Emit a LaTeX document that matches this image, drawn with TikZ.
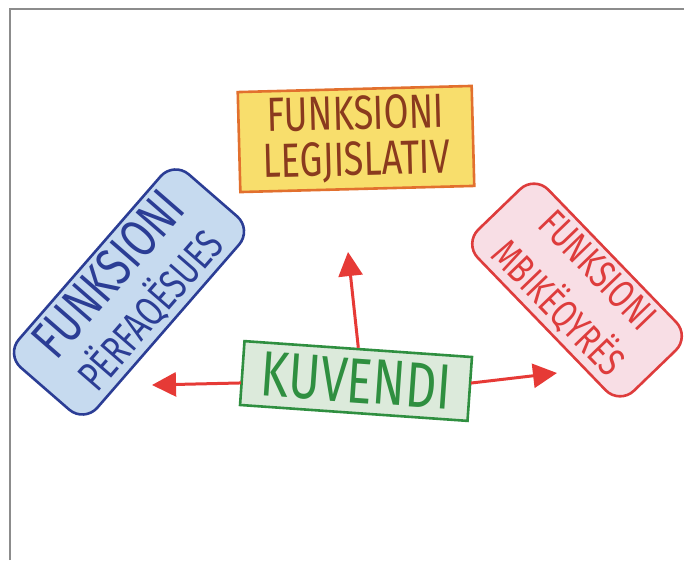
\documentclass[tikz,border=0pt]{standalone}
\usepackage{fontspec}
\usepackage{xcolor}
\usetikzlibrary{arrows.meta}
\newfontfamily\handfont[FakeStretch=0.75]{Fira Sans}
\definecolor{kgreen}{HTML}{2F8F40}
\definecolor{kgreenfill}{HTML}{DCEADB}
\definecolor{lorange}{HTML}{E2702E}
\definecolor{lyellow}{HTML}{F8DE6C}
\definecolor{lbrown}{HTML}{8A3A1E}
\definecolor{pblue}{HTML}{2B3D95}
\definecolor{pbluefill}{HTML}{C6DAEF}
\definecolor{mred}{HTML}{DE3C3C}
\definecolor{mpink}{HTML}{F8DEE5}
\definecolor{arrred}{HTML}{E63A36}

\begin{document}
\begin{tikzpicture}[x=1pt,y=1pt,
    box/.style={draw, line width=2.6pt, align=center, inner sep=0pt},
    arr/.style={draw=arrred, line width=3pt, -{Triangle[length=24pt,width=24pt]}}]
    \useasboundingbox (0,0) rectangle (684,560);
    % frame
    \draw[draw=black!45, line width=2pt] (10,0) -- (10,551) -- (684,551);

    % centre
    \node (kuvendi) at (356,179) [box, draw=kgreen, fill=kgreenfill, text=kgreen,
        minimum width=228, minimum height=64, rotate=-4,
        font=\handfont\fontsize{64}{60}\selectfont] {KUVENDI};

    % three functions
    \node (legj) at (356,421) [box, draw=lorange, fill=lyellow, text=lbrown,
        minimum width=234, minimum height=100, rotate=1.5,
        font=\handfont\fontsize{48}{46}\selectfont] {FUNKSIONI\\LEGJISLATIV};
    \node (perf) at (129,268) [box, draw=pblue, fill=pbluefill, text=pblue,
        minimum width=256, minimum height=104, rotate=49, rounded corners=20pt,
        font=\handfont\fontsize{42}{52}\selectfont]
        {{\fontsize{54}{52}\selectfont FUNKSIONI}\\PËRFAQËSUES};
    \node (mbik) at (577,270) [box, draw=mred, fill=mpink, text=mred,
        minimum width=224, minimum height=98, rotate=-46, rounded corners=20pt,
        font=\handfont\fontsize{40}{55}\selectfont] {FUNKSIONI\\MBIKËQYRËS};

    % arrow ends
    \coordinate (tipU) at (348,308);
    \coordinate (tipL) at (152,175);
    \coordinate (tipR) at (557,187);

    \draw[arr] (kuvendi.north) -- (tipU);
    \draw[arr] ([yshift=-10pt]kuvendi.west) -- (tipL);
    \draw[arr] ([yshift=6pt]kuvendi.east) -- (tipR);
\end{tikzpicture}
\end{document}
